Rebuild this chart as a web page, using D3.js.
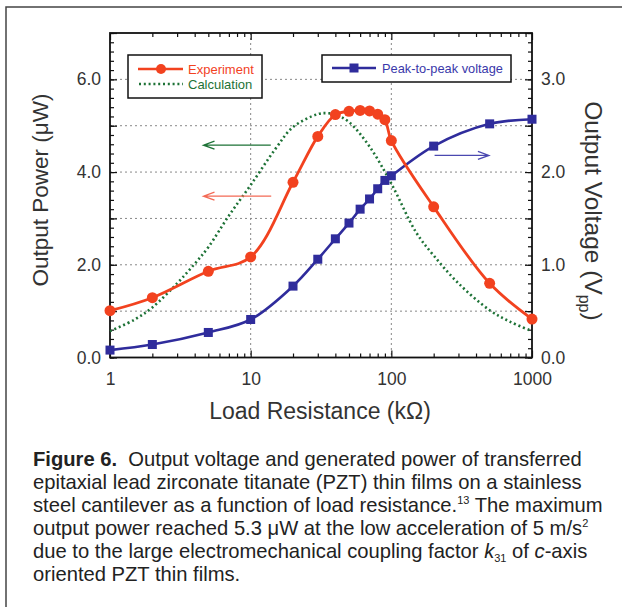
<!DOCTYPE html>
<html>
<head>
<meta charset="utf-8">
<script src="https://cdn.jsdelivr.net/npm/d3@7"></script>
<style>
  body { margin: 0; background: #fff; }
  svg { display: block; font-family: "Liberation Sans", Arial, sans-serif; }
</style>
</head>
<body>
<svg id="chart" width="622" height="607"></svg>
<script>
// load resistance (kOhm) for the measured points
var resistance = [1, 2, 5, 10, 20, 30, 40, 50, 60, 70, 80, 90, 100, 200, 500, 1000]
// measured output power (uW)
var powerExp = [1.01, 1.29, 1.86, 2.17, 3.78, 4.77, 5.24, 5.31, 5.33, 5.32, 5.25, 5.13, 4.68, 3.25, 1.60, 0.83]
// peak-to-peak voltage (V)
var voltage = [0.08, 0.14, 0.27, 0.41, 0.77, 1.06, 1.28, 1.45, 1.60, 1.71, 1.82, 1.91, 1.96, 2.28, 2.52, 2.57]
// calculated power curve
var calcR = [1, 1.5, 2, 3, 4, 5, 7, 10, 15, 20, 30, 35, 40, 50, 70, 100, 150, 200, 300, 500, 700, 1000]
var calcP = [0.57, 0.82, 1.08, 1.6, 2.02, 2.38, 3.06, 3.72, 4.5, 4.97, 5.25, 5.27, 5.24, 5.08, 4.55, 3.75, 2.7, 2.2, 1.6, 1.02, 0.77, 0.57]

var xMajor = [1, 10, 100, 1000]
var leftLabels = [0, 2, 4, 6]
var rightLabels = [0, 1, 2, 3]

var red = "#f2421f", green = "#1d7236", blue = "#2f2c9c"

const svg = d3.select('#chart')

// outer figure frame (right side runs off the page)
svg.append('path')
  .attr('d', 'M6,607 L6,7 L622,7')
  .attr('fill', 'none')
  .attr('stroke', '#444')
  .attr('stroke-width', 1.5)

const pL = 110, pT = 33, pR = 532, pB = 357.5

const x = d3.scaleLog().domain([1, 1000]).range([pL, pR])
const yL = d3.scaleLinear().domain([0, 7]).range([pB, pT])
const yR = d3.scaleLinear().domain([0, 3.5]).range([pB, pT])

// minor tick values
var xMinor = []
xMajor.slice(0, 3).forEach(function(d){ for (var k = 2; k < 10; k++) xMinor.push(d * k) })
var yMinor = d3.range(0, 7.01, 0.2)
var yMid = d3.range(0, 7.01, 1)

// grid
const grid = svg.append('g').attr('stroke', '#888').attr('stroke-width', 1).attr('stroke-dasharray', '2,3')
grid.selectAll('.gx').data([10, 100]).enter().append('line')
  .attr('x1', d => x(d)).attr('x2', d => x(d)).attr('y1', pT).attr('y2', pB)
grid.selectAll('.gy').data([1, 2, 3, 4, 5, 6]).enter().append('line')
  .attr('x1', pL).attr('x2', pR).attr('y1', d => yL(d)).attr('y2', d => yL(d))

function addAxis(axis, tx, ty) {
  var g = svg.append('g').attr('transform', 'translate(' + tx + ',' + ty + ')').call(axis)
  g.select('.domain').remove()
  g.selectAll('line').attr('stroke', '#111').attr('stroke-width', 1.2)
  g.selectAll('text').attr('fill', '#333').style('font-size', '17.5px')
  return g
}
// x axes, ticks pointing inward
addAxis(d3.axisBottom(x).tickValues(xMinor).tickSize(-4).tickFormat(''), 0, pB)
addAxis(d3.axisBottom(x).tickValues(xMajor).tickSize(-7).tickPadding(15).tickFormat(d3.format('d')), 0, pB)
addAxis(d3.axisTop(x).tickValues(xMinor).tickSize(-4).tickFormat(''), 0, pT)
addAxis(d3.axisTop(x).tickValues(xMajor).tickSize(-7).tickFormat(''), 0, pT)
// y axes
addAxis(d3.axisLeft(yL).tickValues(yMinor).tickSize(-4).tickFormat(''), pL, 0)
addAxis(d3.axisLeft(yL).tickValues(yMid).tickSize(-7).tickFormat(''), pL, 0)
addAxis(d3.axisLeft(yL).tickValues(leftLabels).tickSize(0).tickPadding(9).tickFormat(d3.format('.1f')), pL, 0)
addAxis(d3.axisRight(yR).tickValues(yMinor.map(d => d / 2)).tickSize(-4).tickFormat(''), pR, 0)
addAxis(d3.axisRight(yR).tickValues(yMid.map(d => d / 2)).tickSize(-7).tickFormat(''), pR, 0)
addAxis(d3.axisRight(yR).tickValues(rightLabels).tickSize(0).tickPadding(9).tickFormat(d3.format('.1f')), pR, 0)

svg.append('rect')
  .attr('x', pL).attr('y', pT).attr('width', pR - pL).attr('height', pB - pT)
  .attr('fill', 'none').attr('stroke', '#111').attr('stroke-width', 1.8)

// calculation curve
svg.append('path')
  .datum(calcR.map((r, i) => [r, calcP[i]]))
  .attr('fill', 'none').attr('stroke', green).attr('stroke-width', 2.6)
  .attr('stroke-dasharray', '2,2.8')
  .attr('d', d3.line().x(d => x(d[0])).y(d => yL(d[1])).curve(d3.curveCatmullRom.alpha(0.5)))

// voltage
svg.append('path')
  .datum(resistance.map((r, i) => [r, voltage[i]]))
  .attr('fill', 'none').attr('stroke', blue).attr('stroke-width', 2.6)
  .attr('d', d3.line().x(d => x(d[0])).y(d => yR(d[1])).curve(d3.curveCatmullRom.alpha(0.5)))
svg.append('g').selectAll('rect')
  .data(resistance.map((r, i) => [r, voltage[i]]))
  .enter().append('rect')
  .attr('x', d => x(d[0]) - 4.5).attr('y', d => yR(d[1]) - 4.5)
  .attr('width', 9).attr('height', 9).attr('fill', blue)

// experiment
svg.append('path')
  .datum(resistance.map((r, i) => [r, powerExp[i]]))
  .attr('fill', 'none').attr('stroke', red).attr('stroke-width', 2.8)
  .attr('d', d3.line().x(d => x(d[0])).y(d => yL(d[1])).curve(d3.curveCatmullRom.alpha(0.5)))
svg.append('g').selectAll('circle')
  .data(resistance.map((r, i) => [r, powerExp[i]]))
  .enter().append('circle')
  .attr('cx', d => x(d[0])).attr('cy', d => yL(d[1])).attr('r', 5.5).attr('fill', red)

// arrows pointing to the axis each curve belongs to
function arrow(x1, x2, y, color) {
  var dir = x2 > x1 ? -1 : 1
  svg.append('path')
    .attr('d', 'M' + x1 + ',' + y + ' L' + x2 + ',' + y +
      ' M' + (x2 + dir * 11) + ',' + (y - 4) + ' L' + x2 + ',' + y + ' L' + (x2 + dir * 11) + ',' + (y + 4))
    .attr('fill', 'none').attr('stroke', color).attr('stroke-width', 1.3)
}
arrow(x(13.9), x(4.62), yL(4.58), green)
arrow(x(14), x(4.62), yL(3.48), "#f36a55")
arrow(x(203), x(494), yR(2.18), "#4a48b0")

// legends
const leg1 = svg.append('g')
leg1.append('rect').attr('x', 128).attr('y', 55).attr('width', 134).attr('height', 43)
  .attr('fill', '#fff').attr('stroke', '#111').attr('stroke-width', 1.5)
leg1.append('line').attr('x1', 138).attr('x2', 183).attr('y1', 69).attr('y2', 69)
  .attr('stroke', red).attr('stroke-width', 2.6)
leg1.append('circle').attr('cx', 161).attr('cy', 69).attr('r', 5).attr('fill', red)
leg1.append('text').attr('x', 188).attr('y', 73.5).attr('fill', red).style('font-size', '13px').text('Experiment')
leg1.append('line').attr('x1', 139).attr('x2', 183).attr('y1', 84).attr('y2', 84)
  .attr('stroke', green).attr('stroke-width', 2.6).attr('stroke-dasharray', '2,2.8')
leg1.append('text').attr('x', 188).attr('y', 88.5).attr('fill', green).style('font-size', '13px').text('Calculation')

const leg2 = svg.append('g')
leg2.append('rect').attr('x', 322).attr('y', 55).attr('width', 189).attr('height', 27)
  .attr('fill', '#fff').attr('stroke', '#111').attr('stroke-width', 1.5)
leg2.append('line').attr('x1', 332).attr('x2', 376).attr('y1', 68).attr('y2', 68)
  .attr('stroke', blue).attr('stroke-width', 2.6)
leg2.append('rect').attr('x', 349.5).attr('y', 63.5).attr('width', 9).attr('height', 9).attr('fill', blue)
leg2.append('text').attr('x', 382).attr('y', 72.5).attr('fill', '#3a38aa').style('font-size', '12.8px').text('Peak-to-peak voltage')

// axis titles
svg.append('text').attr('x', 320).attr('y', 419).attr('text-anchor', 'middle')
  .attr('fill', '#333').style('font-size', '23px').text('Load Resistance (kΩ)')
svg.append('text').attr('transform', 'translate(48,190) rotate(-90)').attr('text-anchor', 'middle')
  .attr('fill', '#333').style('font-size', '22.5px').text('Output Power (μW)')
const rt = svg.append('text').attr('transform', 'translate(585,211) rotate(90)').attr('text-anchor', 'middle')
  .attr('fill', '#333').style('font-size', '24.5px')
rt.append('tspan').text('Output Voltage (V')
rt.append('tspan').attr('dy', 6).style('font-size', '16px').text('pp')
rt.append('tspan').attr('dy', -6).text(')')

// caption
var caption = [
  [['b', 'Figure 6.'], ['', '  Output voltage and generated power of transferred']],
  [['', 'epitaxial lead zirconate titanate (PZT) thin films on a stainless']],
  [['', 'steel cantilever as a function of load resistance.'], ['sup', '13'], ['', ' The maximum']],
  [['', 'output power reached 5.3 μW at the low acceleration of 5 m/s'], ['sup', '2']],
  [['', 'due to the large electromechanical coupling factor '], ['i', 'k'], ['sub', '31'], ['', ' of '], ['i', 'c'], ['', '-axis']],
  [['', 'oriented PZT thin films.']]
]
caption.forEach(function(line, i){
  var t = svg.append('text').attr('x', 33).attr('y', 466 + i * 23).attr('fill', '#222')
    .style('font-size', '20.2px').attr('xml:space', 'preserve')
  var shift = 0
  line.forEach(function(p){
    var s = t.append('tspan').text(p[1])
    var want = p[0] == 'sup' ? -8 : (p[0] == 'sub' ? 4 : 0)
    if (want != shift) { s.attr('dy', want - shift); shift = want }
    if (p[0] == 'b') s.style('font-weight', 'bold')
    if (p[0] == 'i') s.style('font-style', 'italic')
    if (p[0] == 'sup' || p[0] == 'sub') s.style('font-size', '11px')
  })
})
</script>
</body>
</html>
